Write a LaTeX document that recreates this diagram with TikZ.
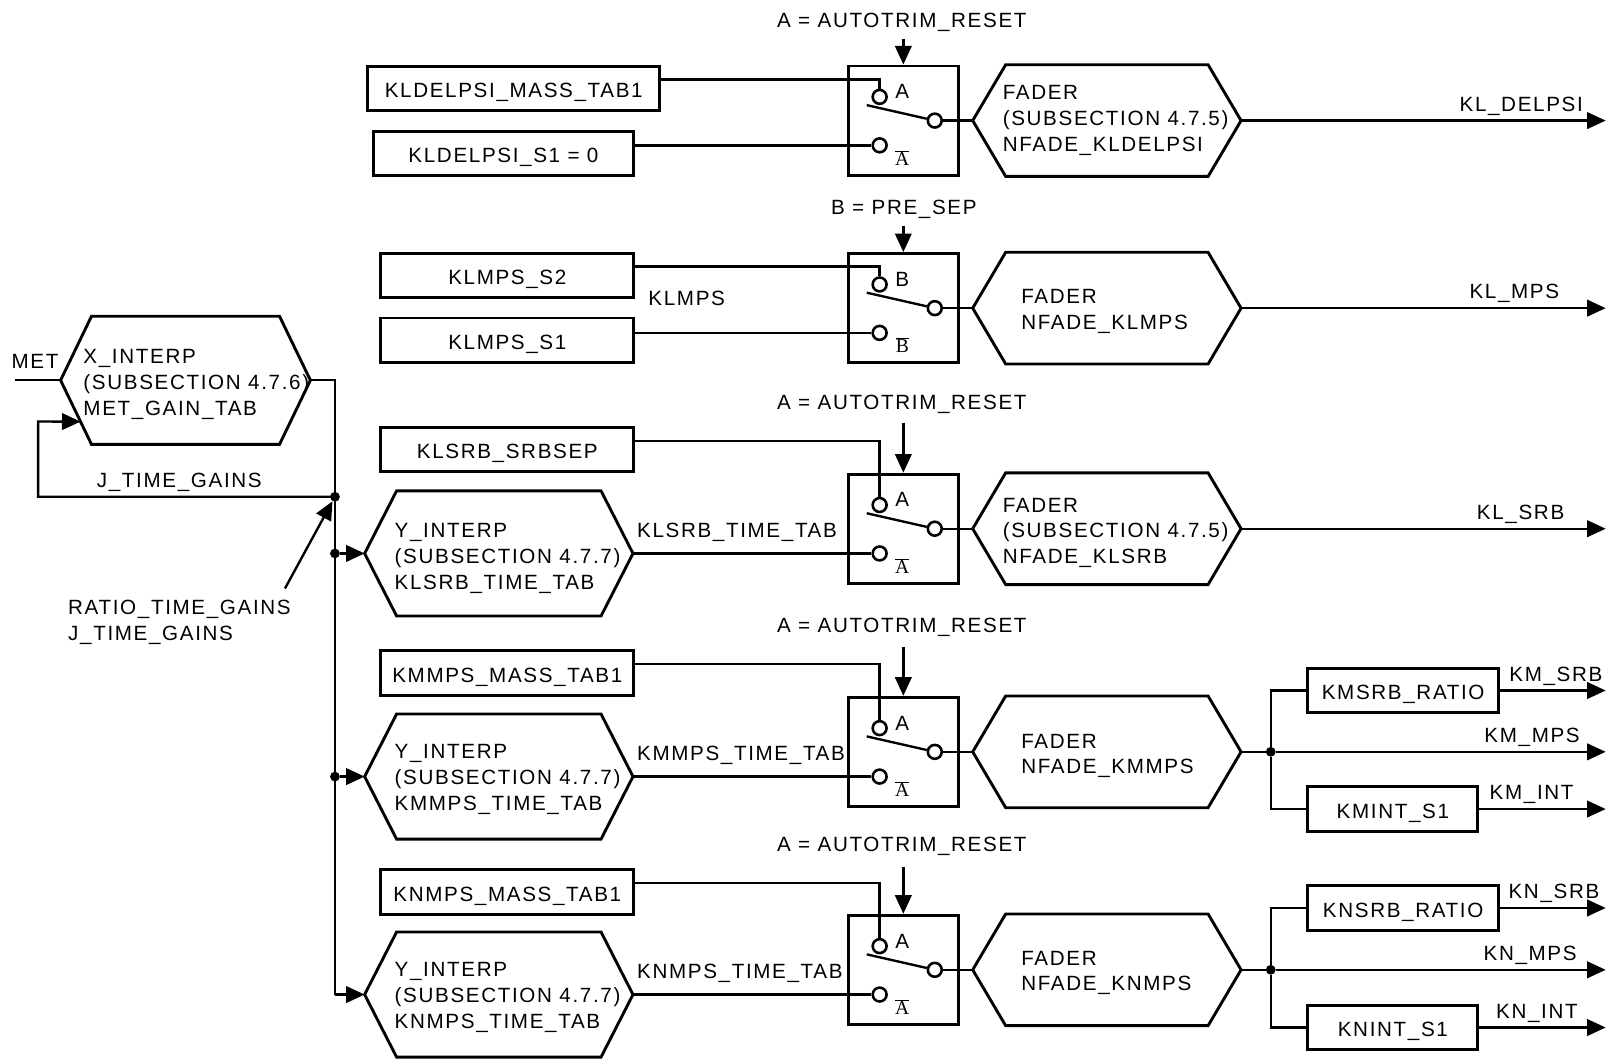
\documentclass[tikz,border=0pt]{standalone}
\usepackage[no-math]{fontspec}
\setmainfont{Liberation Sans}[LetterSpace=8]
\newfontfamily\serifA{Liberation Serif}
\usetikzlibrary{arrows.meta,calc}
\newcommand\hexoutline[2]{\draw[line width=2.8pt,line join=miter] (#1.west) -- ([xshift=#2]#1.north west) -- ([xshift=-#2]#1.north east) -- (#1.east) -- ([xshift=-#2]#1.south east) -- ([xshift=#2]#1.south west) -- cycle;}
\newcommand\barA[1]{$\overline{\hbox{\serifA\fontsize{19}{19}\selectfont #1}}$}
\tikzset{
  txt/.style={font=\fontsize{20}{25}\selectfont, inner sep=0pt},
  mtxt/.style={font=\fontsize{20}{25}\selectfont, inner sep=0pt, align=left, anchor=west},
  box/.style={draw, line width=2.8pt, rectangle, inner sep=0pt, minimum height=43pt, text height=18pt, text depth=0pt, font=\fontsize{20}{25}\selectfont},
  hexnode/.style={inner sep=0pt, minimum width=260pt},
  wire/.style={line width=2.3pt},
  sig/.style={line width=2.3pt, -{Triangle[length=18pt,width=16pt]}},
  swbox/.style={draw, line width=2.8pt, minimum width=107pt, minimum height=106pt, inner sep=0pt},
  contact/.style={draw, circle, line width=2.5pt, minimum size=13.5pt, inner sep=0pt},
  dot/.style={circle, fill, inner sep=0pt, minimum size=9.5pt},
  barlbl/.style={inner sep=0pt},
}
\begin{document}
\begin{tikzpicture}[x=1pt,y=-1pt]
\useasboundingbox (0,0) rectangle (1568,1027);

% ---------- left: X_INTERP and bus ----------
\node[hexnode, minimum width=242pt, minimum height=124pt] (xi) at (180,369) {};
\hexoutline{xi}{30pt}
\node[mtxt] (xit) at ([xshift=22pt,yshift=-4pt]xi.west) {X\_INTERP\\(SUBSECTION 4.7.6)\\MET\_GAIN\_TAB};
\node[txt] (met) at (34,351) {MET};
\coordinate (metin) at (15,369);
\draw[wire] (metin) -- (xi.west);

\coordinate (bustop) at (325,369);
\node[dot] (jj) at (325,482) {};
\node[dot] (j3) at (325,537) {};
\node[dot] (j4) at (325,753.5) {};

\path (xi.west) -- ([xshift=30pt]xi.south west) coordinate[pos=0.645] (xifb);
\coordinate (fb1) at (37,482);
\coordinate (fb2) at (37,409);
\draw[sig] (jj.center) -- (fb1) -- (fb2) -- (xifb);
\node[txt] (jtg) at (174,468) {J\_TIME\_GAINS};
\coordinate (rt) at (276.5,571);
\draw[sig] (rt) -- (jj);
\node[mtxt] (rtg) at (66,604) {RATIO\_TIME\_GAINS\\J\_TIME\_GAINS};

% ---------- left boxes ----------
\node[box, minimum width=283pt] (b1) at (498.5,86) {KLDELPSI\_MASS\_TAB1};
\node[box, minimum width=253pt] (b2) at (488.5,149) {KLDELPSI\_S1 = 0};
\node[box, minimum width=245.5pt] (b3) at (492.25,267.5) {KLMPS\_S2};
\node[box, minimum width=245.5pt] (b4) at (492.25,330) {KLMPS\_S1};
\node[txt, anchor=west] (klmps) at (629,289.5) {KLMPS};
\node[box, minimum width=245.5pt] (b5) at (492.25,436) {KLSRB\_SRBSEP};
\node[box, minimum width=245.5pt] (b6) at (492.25,653) {KMMPS\_MASS\_TAB1};
\node[box, minimum width=245.5pt] (b7) at (492.25,865.5) {KNMPS\_MASS\_TAB1};

% ---------- Y_INTERP hexagons ----------
\node[hexnode, minimum height=121pt] (y3) at (484,537) {};
\hexoutline{y3}{31pt}
\node[mtxt] (y3t) at ([xshift=29pt,yshift=-5pt]y3.west) {Y\_INTERP\\(SUBSECTION 4.7.7)\\KLSRB\_TIME\_TAB};
\node[hexnode, minimum height=121pt] (y4) at (484,753.5) {};
\hexoutline{y4}{31pt}
\node[mtxt] (y4t) at ([xshift=29pt,yshift=-3pt]y4.west) {Y\_INTERP\\(SUBSECTION 4.7.7)\\KMMPS\_TIME\_TAB};
\node[hexnode, minimum height=121pt] (y5) at (484,965) {};
\hexoutline{y5}{31pt}
\node[mtxt] (y5t) at ([xshift=29pt,yshift=-3pt]y5.west) {Y\_INTERP\\(SUBSECTION 4.7.7)\\KNMPS\_TIME\_TAB};

\draw[wire] (xi.east) -- (bustop) -- (325,965) coordinate (busbot);
\draw[sig] (busbot) -- (y5.west);
\draw[sig] (j3) -- (y3.west);
\draw[sig] (j4) -- (y4.west);

% ---------- switches ----------
% row 1
\node[txt] (lab1) at (875,22) {A = AUTOTRIM\_RESET};
\node[swbox] (sw1) at (876.5,117) {};
\coordinate (as1) at (876.5,38);
\draw[sig] (as1) -- (sw1.north);
\node[contact] (uc1) at (853.5,94) {};
\node[contact] (lc1) at (853.5,141) {};
\node[contact] (oc1) at (907,117) {};
\node[txt] (ua1) at (875.5,89) {A};
\node[barlbl] (la1) at (875.5,153) {\barA{A}};
\coordinate (bs1) at (841,102);
\draw[wire] (bs1) -- (oc1);
\coordinate (wt1) at (853.5,77);
\draw[wire] (b1.east |- wt1) -- (wt1) -- (uc1);
\draw[wire] (b2.east |- lc1) -- (lc1);

% row 2
\node[txt] (lab2) at (877,203) {B = PRE\_SEP};
\node[swbox] (sw2) at (876.5,299) {};
\coordinate (as2) at (876.5,219);
\draw[sig] (as2) -- (sw2.north);
\node[contact] (uc2) at (853.5,276) {};
\node[contact] (lc2) at (853.5,323) {};
\node[contact] (oc2) at (907,299) {};
\node[txt] (ua2) at (875.5,271) {B};
\node[barlbl] (la2) at (875.5,335) {\barA{B}};
\coordinate (bs2) at (841,284);
\draw[wire] (bs2) -- (oc2);
\coordinate (wt2) at (853.5,258.5);
\draw[wire] (b3.east |- wt2) -- (wt2) -- (uc2);
\draw[wire] (b4.east |- lc2) -- (lc2);

% row 3
\node[txt] (lab3) at (875,392) {A = AUTOTRIM\_RESET};
\node[swbox] (sw3) at (876.5,513) {};
\coordinate (as3) at (876.5,410);
\draw[sig] (as3) -- (sw3.north);
\node[contact] (uc3) at (853.5,490) {};
\node[contact] (lc3) at (853.5,537) {};
\node[contact] (oc3) at (907,513) {};
\node[txt] (ua3) at (875.5,485) {A};
\node[barlbl] (la3) at (875.5,549) {\barA{A}};
\coordinate (bs3) at (841,498);
\draw[wire] (bs3) -- (oc3);
\coordinate (wt3) at (853.5,428);
\draw[wire] (b5.east |- wt3) -- (wt3) -- (uc3);
\draw[wire] (y3.east) -- (lc3);
\node[txt, anchor=base west] (t3) at (618,522) {KLSRB\_TIME\_TAB};

% row 4
\node[txt] (lab4) at (875,609) {A = AUTOTRIM\_RESET};
\node[swbox] (sw4) at (876.5,729.5) {};
\coordinate (as4) at (876.5,628);
\draw[sig] (as4) -- (sw4.north);
\node[contact] (uc4) at (853.5,706.5) {};
\node[contact] (lc4) at (853.5,753.5) {};
\node[contact] (oc4) at (907,729.5) {};
\node[txt] (ua4) at (875.5,701.5) {A};
\node[barlbl] (la4) at (875.5,765.5) {\barA{A}};
\coordinate (bs4) at (841,714.5);
\draw[wire] (bs4) -- (oc4);
\coordinate (wt4) at (853.5,644);
\draw[wire] (b6.east |- wt4) -- (wt4) -- (uc4);
\draw[wire] (y4.east) -- (lc4);
\node[txt, anchor=base west] (t4) at (618,738) {KMMPS\_TIME\_TAB};

% row 5
\node[txt] (lab5) at (875,821) {A = AUTOTRIM\_RESET};
\node[swbox] (sw5) at (876.5,941) {};
\coordinate (as5) at (876.5,841);
\draw[sig] (as5) -- (sw5.north);
\node[contact] (uc5) at (853.5,918) {};
\node[contact] (lc5) at (853.5,965) {};
\node[contact] (oc5) at (907,941) {};
\node[txt] (ua5) at (875.5,913) {A};
\node[barlbl] (la5) at (875.5,977) {\barA{A}};
\coordinate (bs5) at (841,926);
\draw[wire] (bs5) -- (oc5);
\coordinate (wt5) at (853.5,857);
\draw[wire] (b7.east |- wt5) -- (wt5) -- (uc5);
\draw[wire] (y5.east) -- (lc5);
\node[txt, anchor=base west] (t5) at (618,949) {KNMPS\_TIME\_TAB};

% ---------- faders ----------
\node[hexnode, minimum height=108pt] (f1) at (1074,117) {};
\hexoutline{f1}{32pt}
\node[mtxt] (f1t) at ([xshift=29pt]f1.west) {FADER\\(SUBSECTION 4.7.5)\\NFADE\_KLDELPSI};
\node[hexnode, minimum height=108pt] (f2) at (1074,299) {};
\hexoutline{f2}{32pt}
\node[mtxt] (f2t) at ([xshift=47pt,yshift=-3pt]f2.west) {FADER\\NFADE\_KLMPS};
\node[hexnode, minimum height=108pt] (f3) at (1074,513) {};
\hexoutline{f3}{32pt}
\node[mtxt] (f3t) at ([xshift=29pt,yshift=-4pt]f3.west) {FADER\\(SUBSECTION 4.7.5)\\NFADE\_KLSRB};
\node[hexnode, minimum height=108pt] (f4) at (1074,729.5) {};
\hexoutline{f4}{32pt}
\node[mtxt] (f4t) at ([xshift=47pt,yshift=-4pt]f4.west) {FADER\\NFADE\_KMMPS};
\node[hexnode, minimum height=108pt] (f5) at (1074,941) {};
\hexoutline{f5}{32pt}
\node[mtxt] (f5t) at ([xshift=47pt,yshift=-3pt]f5.west) {FADER\\NFADE\_KNMPS};

\foreach \i in {1,...,5} {\draw[wire] (oc\i) -- (f\i.west);}

% ---------- outputs ----------
\coordinate (o1) at (1558,117);
\draw[sig] (f1.east) -- (o1);
\node[txt, anchor=base east] (l1) at (1536,108) {KL\_DELPSI};
\coordinate (o2) at (1558,299);
\draw[sig] (f2.east) -- (o2);
\node[txt, anchor=base east] (l2) at (1513,290) {KL\_MPS};
\coordinate (o3) at (1558,513);
\draw[sig] (f3.east) -- (o3);
\node[txt, anchor=base east] (l3) at (1518,504) {KL\_SRB};

% row 4 outputs
\node[dot] (k4) at (1233,729.5) {};
\node[box, minimum width=185pt] (r4a) at (1361.5,670) {KMSRB\_RATIO};
\node[box, minimum width=165pt] (r4c) at (1351.5,785) {KMINT\_S1};
\draw[wire] (f4.east) -- (k4);
\draw[wire] (k4) |- (r4a.west);
\draw[wire] (k4) |- (r4c.west);
\coordinate (o4a) at (1558,670);
\coordinate (o4b) at (1558,729.5);
\coordinate (o4c) at (1558,785);
\draw[sig] (r4a.east) -- (o4a);
\draw[sig] (k4) -- (o4b);
\draw[sig] (r4c.east) -- (o4c);
\node[txt, anchor=base east] (l4a) at (1555,661) {KM\_SRB};
\node[txt, anchor=base east] (l4b) at (1533,720.5) {KM\_MPS};
\node[txt, anchor=base east] (l4c) at (1527,776) {KM\_INT};

% row 5 outputs
\node[dot] (k5) at (1233,941) {};
\node[box, minimum width=185pt] (r5a) at (1361.5,881) {KNSRB\_RATIO};
\node[box, minimum width=165pt] (r5c) at (1351.5,997) {KNINT\_S1};
\draw[wire] (f5.east) -- (k5);
\draw[wire] (k5) |- (r5a.west);
\draw[wire] (k5) |- (r5c.west);
\coordinate (o5a) at (1558,881);
\coordinate (o5b) at (1558,941);
\coordinate (o5c) at (1558,997);
\draw[sig] (r5a.east) -- (o5a);
\draw[sig] (k5) -- (o5b);
\draw[sig] (r5c.east) -- (o5c);
\node[txt, anchor=base east] (l5a) at (1552,872) {KN\_SRB};
\node[txt, anchor=base east] (l5b) at (1530,932) {KN\_MPS};
\node[txt, anchor=base east] (l5c) at (1531,988) {KN\_INT};
\end{tikzpicture}
\end{document}
